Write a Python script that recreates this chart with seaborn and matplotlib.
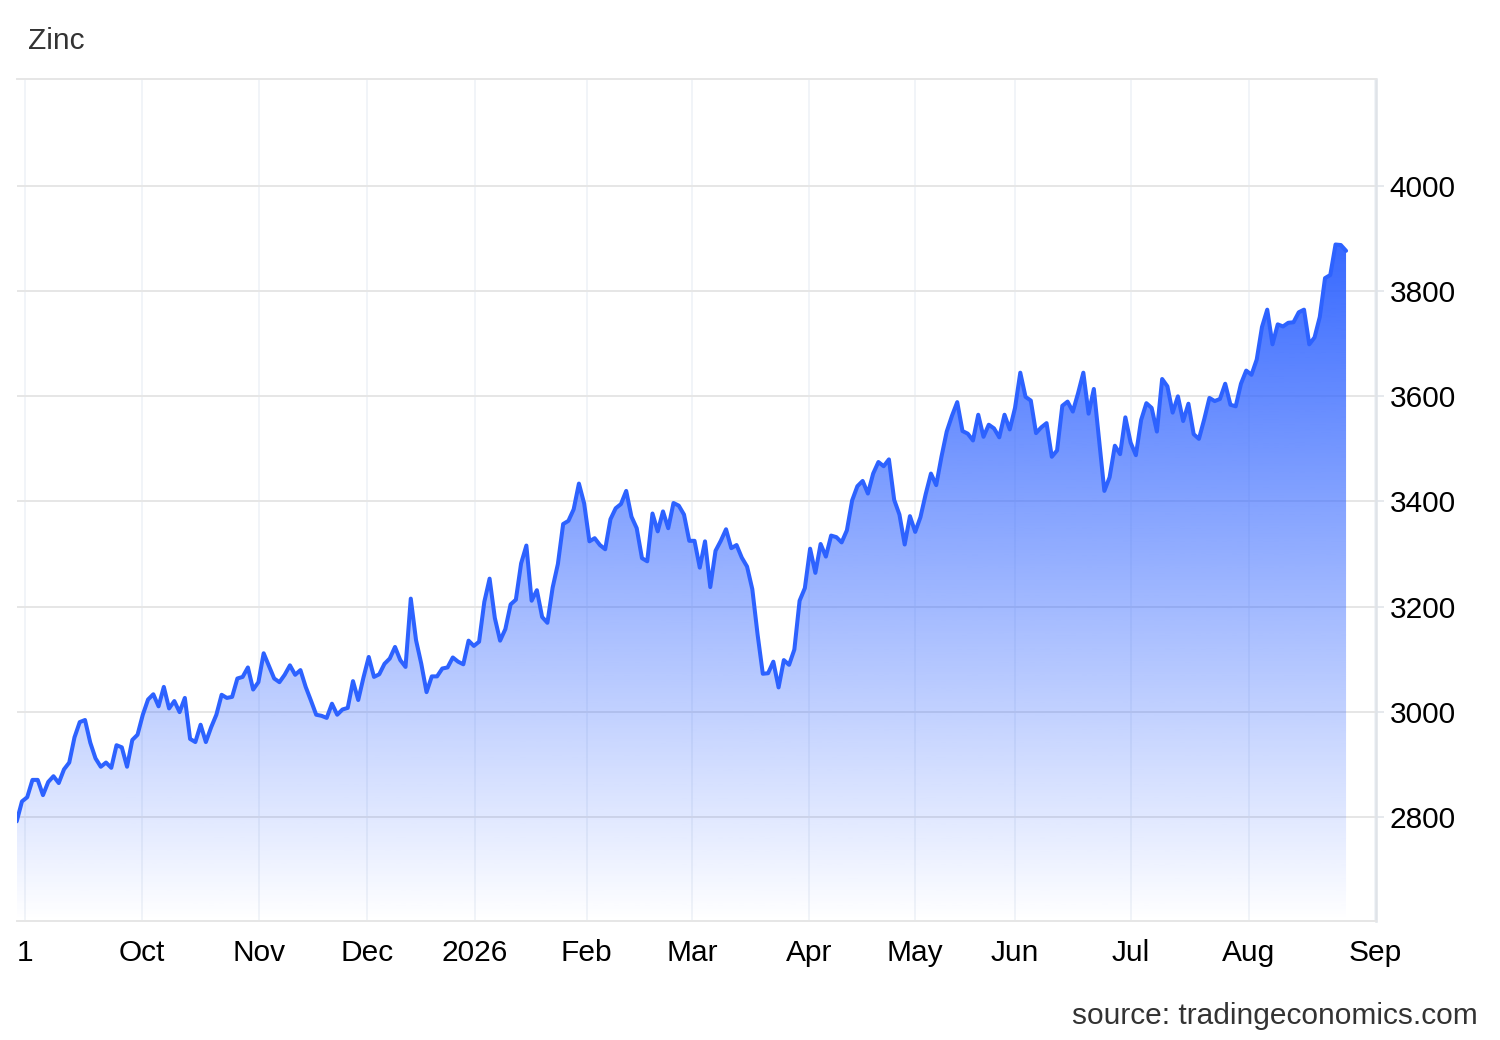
import numpy as np
import pandas as pd
import matplotlib
matplotlib.use("Agg")
import matplotlib.pyplot as plt
import seaborn as sns

# daily zinc price, one value per trading day (Sep 2025 - Aug 2026)
zinc = [
    2791, 2829, 2837, 2870, 2870, 2841, 2866, 2877, 2864, 2890,
    2903, 2951, 2980, 2984, 2941, 2911, 2895, 2903, 2893, 2936,
    2932, 2895, 2946, 2956, 2994, 3023, 3033, 3010, 3047, 3006,
    3020, 2999, 3026, 2948, 2942, 2975, 2942, 2970, 2994, 3032,
    3026, 3028, 3063, 3066, 3084, 3042, 3056, 3111, 3087, 3063,
    3056, 3070, 3088, 3070, 3079, 3047, 3021, 2994, 2992, 2988,
    3015, 2994, 3004, 3007, 3058, 3022, 3065, 3104, 3066, 3071,
    3091, 3101, 3123, 3098, 3085, 3215, 3136, 3091, 3037, 3067,
    3067, 3082, 3084, 3103, 3095, 3090, 3135, 3125, 3133,
    3209, 3253, 3178, 3135, 3157, 3204, 3213, 3282, 3316, 3211,
    3231, 3180, 3169, 3236, 3281, 3357, 3363, 3385, 3434, 3396,
    3324, 3330, 3317, 3309, 3366, 3387, 3395, 3420, 3371, 3349,
    3292, 3286, 3377, 3343, 3381, 3349, 3397, 3392, 3375, 3325,
    3325, 3274, 3324, 3237, 3306, 3325, 3347, 3311, 3317, 3293,
    3276, 3233, 3147, 3072, 3073, 3095, 3046, 3098, 3089, 3118,
    3211,
    3235, 3310, 3264, 3319, 3295, 3335, 3332, 3322, 3345, 3402,
    3429, 3439, 3415, 3453, 3475, 3467, 3480, 3403, 3375, 3318,
    3372, 3342, 3370, 3414, 3453, 3431, 3485, 3533, 3563, 3589,
    3534, 3529, 3516, 3565, 3523, 3546, 3539, 3522, 3565, 3537,
    3578, 3645, 3599, 3592, 3530, 3541, 3549, 3485, 3497, 3582,
    3590, 3571, 3606, 3645, 3567, 3614, 3517, 3420, 3446, 3506,
    3490, 3560, 3512, 3488, 3555, 3587, 3578, 3533, 3633, 3619,
    3569, 3600,
    3553, 3586, 3528, 3519, 3556, 3597, 3591, 3595, 3624, 3584,
    3581, 3624, 3649, 3641, 3670, 3732, 3765, 3699, 3737, 3733,
    3740, 3741, 3760, 3765, 3699, 3712, 3751, 3825, 3831, 3889,
    3888, 3877,
]

# month ticks, in trading-day units
tick_pos = [1.58, 23.8, 46.1, 66.6, 87.2, 108.5, 128.5, 150.8, 170.9, 190.0, 212.0, 234.5, 258.5]
tick_labels = ["1", "Oct", "Nov", "Dec", "2026", "Feb", "Mar", "Apr", "May", "Jun", "Jul", "Aug", "Sep"]
y_ticks = [2800, 3000, 3200, 3400, 3600, 3800, 4000]

df = pd.DataFrame({"day": np.arange(len(zinc)), "price": zinc})

sns.set_style("white")
plt.rcParams["font.family"] = ["Liberation Sans", "DejaVu Sans"]

fig = plt.figure(figsize=(15, 10.4), dpi=100)
ax = fig.add_axes([16.7 / 1500, 1 - 920.7 / 1040, (1376 - 16.7) / 1500, (920.7 - 79) / 1040])

ylo, yhi = 2602, 4204
blue = np.array([51, 102, 255]) / 255
fs = 21.5

# gradient fill under the line
poly = ax.fill_between(df["day"], df["price"], ylo, facecolor="none", edgecolor="none")
grad = np.zeros((256, 1, 4))
grad[..., :3] = blue
grad[:, 0, 3] = np.linspace(0.0, 0.98, 256)
im = ax.imshow(grad, extent=[0, len(zinc) - 1, ylo, max(zinc)], origin="lower",
               aspect="auto", zorder=1)
im.set_clip_path(poly.get_paths()[0], transform=ax.transData)

sns.lineplot(data=df, x="day", y="price", color="#2d62ff", lw=2.9, ax=ax, zorder=3)

ax.set_xlim(0, 258.7)
ax.set_ylim(ylo, yhi)
ax.set_xticks(tick_pos)
ax.set_xticklabels(tick_labels)
ax.set_yticks(y_ticks)
ax.yaxis.tick_right()
ax.set_xlabel("")
ax.set_ylabel("")

ax.set_axisbelow(True)
ax.grid(axis="y", color="#e6e6e6", lw=1.4)
ax.grid(axis="x", color="#edf1f6", lw=1.1)

ax.tick_params(axis="x", length=0, pad=13.5, labelsize=fs, labelcolor="#000000")
ax.tick_params(axis="y", length=5.8, width=1.1, color="#dfe3e8", pad=4.0,
               labelsize=fs, labelcolor="#000000")

ax.spines["left"].set_visible(False)
ax.spines["top"].set_color("#e6e6e6")
ax.spines["top"].set_linewidth(1.4)
ax.spines["bottom"].set_color("#e6e6e6")
ax.spines["bottom"].set_linewidth(1.4)
ax.spines["right"].set_color("#dfe3e8")
ax.spines["right"].set_linewidth(1.8)

fig.text(28 / 1500, 1 - 41 / 1040, "Zinc", fontsize=fs, color="#333333", va="center", ha="left")
fig.text(1478 / 1500, 1 - 1016 / 1040, "source: tradingeconomics.com", fontsize=fs,
         color="#333333", va="center", ha="right")

fig.savefig("out.png", dpi=100)
